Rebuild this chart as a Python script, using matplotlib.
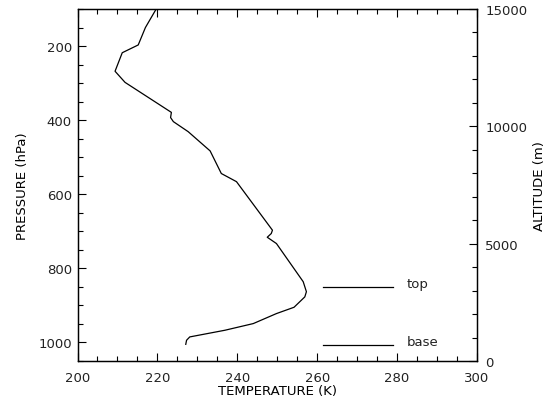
import numpy as np
import matplotlib
matplotlib.use("Agg")
import matplotlib.pyplot as plt
from matplotlib.ticker import MultipleLocator

plt.rcParams['font.family'] = "DejaVu Sans"
plt.rcParams['font.size'] = 9.5
plt.rcParams['text.color'] = "#222222"
plt.rcParams['xtick.labelcolor'] = "#222222"
plt.rcParams['ytick.labelcolor'] = "#222222"

# temperature profile (pressure in hPa, temperature in K)
pressure = [100, 150, 197, 218, 268, 298, 379, 393, 404, 431, 483,
            544, 566, 697, 706, 716, 733, 836, 863, 877, 905, 922,
            949, 967, 985, 994, 1005]
temperature = [219.7, 217.0, 215.2, 211.2, 209.4, 211.9, 223.5, 223.3, 224.0, 227.7, 233.2,
               236.0, 239.8, 248.8, 248.5, 247.5, 249.8, 256.5, 257.3, 256.9, 254.2, 249.8,
               244.0, 236.9, 228.1, 227.3, 227.1]

# cloud layer markers (altitude in m)
layer_names = ["top", "base"]
layer_alt = [3170, 690]
layer_temp = [261.5, 279.0]

fig = plt.figure(figsize=(5.52, 4.02), dpi=100)
ax = fig.add_axes([0.1404, 0.0995, 0.7237, 0.8756])

ax.plot(temperature, pressure, c="k", lw=0.9)
ax.set_xlim(200, 300)
ax.set_ylim(1050, 100)
ax.xaxis.set_major_locator(MultipleLocator(20))
ax.xaxis.set_minor_locator(MultipleLocator(5))
ax.yaxis.set_major_locator(MultipleLocator(200))
ax.yaxis.set_minor_locator(MultipleLocator(50))
ax.tick_params(which="both", direction="in", top=True, right=False)
ax.tick_params(which="major", length=6, width=0.8)
ax.tick_params(which="minor", length=3.5, width=0.8)
ax.tick_params(axis="x", pad=7)
ax.tick_params(axis="y", pad=4)
ax.set_xlabel("TEMPERATURE (K)", labelpad=0)
ax.set_ylabel("PRESSURE (hPa)", labelpad=7)

# altitude axis on the right
ax2 = ax.twinx()
ax2.set_ylim(0, 15000)
ax2.yaxis.set_major_locator(MultipleLocator(5000))
ax2.yaxis.set_minor_locator(MultipleLocator(1000))
ax2.tick_params(which="both", direction="in")
ax2.tick_params(which="major", length=6, width=0.8, pad=6)
ax2.tick_params(which="minor", length=3.5, width=0.8)
ax2.set_ylabel("ALTITUDE (m)", labelpad=4)

for name, alt in zip(layer_names, layer_alt):
    ax2.plot(layer_temp, [alt, alt], c="k", lw=0.9)
    ax2.text(282.5, alt + 150, name, ha="left", va="center")

for a in [ax, ax2]:
    for s in a.spines.values():
        s.set_linewidth(0.9)

fig.savefig("out.png", dpi=100)
